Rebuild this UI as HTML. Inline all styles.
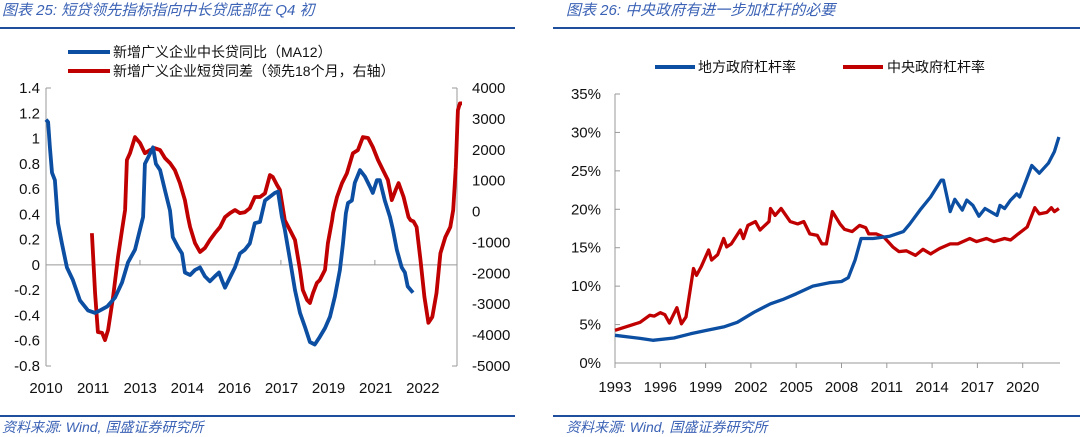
<!DOCTYPE html>
<html><head><meta charset="utf-8">
<style>
html,body{margin:0;padding:0;background:#fff;}
body{width:1080px;height:437px;overflow:hidden;position:relative;font-family:"Liberation Sans","Noto Sans CJK SC",sans-serif;}
svg{position:absolute;left:0;top:0;}
.t{font-family:"Liberation Sans","Noto Sans CJK SC",sans-serif;}
</style></head>
<body>
<svg width="1080" height="437">
<g>
<text x="2" y="15" font-size="15" font-style="italic" fill="#3b62b5" class="t">图表 25:  短贷领先指标指向中长贷底部在 Q4 初</text>
<rect x="0" y="27" width="515" height="2" fill="#1f4e9c"/>
<rect x="0" y="415" width="515" height="2" fill="#1f4e9c"/>
<text x="2" y="432" font-size="14" font-style="italic" fill="#3b62b5" class="t">资料来源:  Wind,  国盛证券研究所</text>
</g>
<g>
<text x="566" y="15" font-size="15" font-style="italic" fill="#3b62b5" class="t">图表 26:  中央政府有进一步加杠杆的必要</text>
<rect x="553" y="27" width="527" height="2" fill="#1f4e9c"/>
<rect x="553" y="415" width="527" height="2" fill="#1f4e9c"/>
<text x="566" y="432" font-size="14" font-style="italic" fill="#3b62b5" class="t">资料来源:  Wind,  国盛证券研究所</text>
</g>
<g id="left"></g>
<g id="right"></g>
</svg>
<script>
// ---------- Left chart data ----------
const leftXLabels = ["2010","2011","2013","2014","2016","2017","2019","2021","2022"];
const leftYTicks = [1.4,1.2,1,0.8,0.6,0.4,0.2,0,-0.2,-0.4,-0.6,-0.8];
const rightYTicks = [4000,3000,2000,1000,0,-1000,-2000,-3000,-4000,-5000];
const blueMonths = [0,0.8,1.5,2.3,3.4,4.6,6.1,8,10.3,13,16.1,18.8,20.7,23.4,26.4,29.1,31.4,34.1,36,37.2,37.9,39.1,41,42.1,43.7,45.6,47.5,48.6,50.6,52.1,53.2,55.2,57.1,59,60.9,62.8,64.7,66.3,67.4,68.6,70.5,72.4,74.3,76.2,78.1,80,82,83.9,85.8,87.7,88.9,90.4,91.5,93.5,95.4,97.3,99.2,101.1,103,104.9,106.9,108.8,110.7,112.6,113.8,114.9,115.7,117.2,118.3,120.3,122.2,124.1,125.2,126.8,127.9,129.8,131.8,132.9,134.4,136.3,137.5,138.6,140.6];
const blueValues = [1.15,1.13,0.93,0.73,0.67,0.33,0.17,-0.02,-0.12,-0.28,-0.36,-0.38,-0.36,-0.33,-0.26,-0.14,0.02,0.12,0.28,0.38,0.8,0.85,0.93,0.8,0.75,0.59,0.43,0.22,0.14,0.09,-0.06,-0.08,-0.04,-0.02,-0.09,-0.13,-0.09,-0.06,-0.12,-0.18,-0.1,-0.02,0.09,0.12,0.17,0.33,0.34,0.51,0.54,0.57,0.58,0.38,0.28,0.04,-0.2,-0.38,-0.49,-0.61,-0.63,-0.57,-0.5,-0.41,-0.25,-0.04,0.17,0.41,0.49,0.51,0.65,0.75,0.7,0.62,0.57,0.67,0.67,0.51,0.38,0.28,0.12,-0.02,-0.06,-0.17,-0.22];
const redMonths = [17.6,18.8,19.9,21.5,22.6,23.8,25.7,27.6,29.1,30.3,31.0,32.2,34.1,36,37.9,39.8,41.7,43.7,45.6,47.5,49.4,51.3,53.2,54.4,55.2,57.1,59,60.9,62.8,64.7,66.7,68.6,70.5,72.4,74.3,76.2,78.1,80,82,83.9,85.8,86.9,88.5,89.6,91.5,93.5,95.4,97.3,98.4,100,101.1,102.3,103.8,104.9,106.9,108,109.6,110,111.5,113.4,115.3,117.6,119.5,121.4,123.4,125.2,127.2,129.1,131,132.5,134,135.1,137,138.9,139.7,140.8,142,143.5,145,146.5,148,149.6,151.1,153,154.9,156,157,157.8,158.6,159.4];
const redValues = [-700,-2650,-3900,-3930,-4160,-3830,-2760,-1470,-600,50,1670,1890,2410,2220,1890,1990,2050,1990,1730,1570,1340,920,370,-180,-500,-1020,-1310,-1180,-920,-700,-500,-180,-50,50,-50,-20,110,470,470,590,1180,1120,860,700,-280,-600,-920,-1890,-2540,-2860,-2960,-2640,-2310,-2220,-1890,-1020,-280,-50,470,920,1240,1890,1990,2410,2380,2090,1670,1340,1020,370,700,920,470,-180,-280,-320,-500,-1570,-2760,-3600,-3410,-2640,-1350,-830,-500,50,1440,3280,3500,3500];

// ---------- Right chart data ----------
const rXLabels = [1993,1996,1999,2002,2005,2008,2011,2014,2017,2020];
const rYTicks = [0,5,10,15,20,25,30,35];
const localYears = [1993,1994.66,1995.5,1996.9,1998,1999.1,2000.2,2001.1,2002.2,2003.3,2004.1,2005,2006.1,2007.2,2008,2008.45,2008.9,2009.3,2010.1,2011.2,2012.1,2012.5,2013.2,2013.9,2014.6,2014.75,2015.2,2015.5,2016,2016.3,2016.7,2017.1,2017.5,2018.3,2018.5,2018.8,2019.2,2019.6,2019.8,2020.2,2020.6,2021.1,2021.7,2022.1,2022.4];
const localValues = [3.6,3.2,2.95,3.25,3.8,4.25,4.7,5.3,6.6,7.7,8.25,9.0,10.0,10.45,10.6,11.1,13.4,16.2,16.2,16.5,17.1,18.05,19.9,21.6,23.8,23.8,19.7,21.3,19.9,21.2,20.5,19.1,20.1,19.2,20.5,20.1,21.2,22.0,21.6,23.6,25.7,24.7,26.0,27.5,29.4];
const centralYears = [1993,1994.66,1995.3,1995.6,1996,1996.3,1996.6,1997.1,1997.4,1997.7,1998.2,1998.4,1998.7,1999.2,1999.4,1999.8,2000.2,2000.4,2000.7,2001.3,2001.5,2001.8,2002.3,2002.6,2003.2,2003.3,2003.6,2004,2004.6,2005.1,2005.5,2005.9,2006.4,2006.7,2007,2007.4,2007.9,2008.2,2008.7,2009.2,2009.6,2009.8,2010.3,2010.8,2011.4,2011.8,2012.3,2012.9,2013.4,2013.9,2014.5,2015.2,2015.7,2016.5,2016.95,2017.6,2018.1,2018.8,2019.2,2019.7,2020.3,2020.8,2021.1,2021.6,2021.9,2022.1,2022.4];
const centralValues = [4.25,5.3,6.2,6.1,6.55,6.3,5.2,7.2,5.1,6.0,12.3,11.4,12.5,14.7,13.4,14.1,16.2,15.1,15.5,17.3,16.2,17.9,18.4,17.3,18.4,20.1,19.2,20.1,18.4,18.1,18.4,16.8,16.6,15.5,15.5,19.7,18.1,17.4,17.1,17.9,17.6,16.8,16.8,16.4,15.1,14.5,14.6,14.0,14.8,14.2,14.9,15.5,15.5,16.2,15.8,16.2,15.8,16.2,16.0,16.8,17.7,20.2,19.4,19.6,20.2,19.7,20.1];

const NS="http://www.w3.org/2000/svg";
function mk(parent,tag,attrs,text){const e=document.createElementNS(NS,tag);for(const k in attrs)e.setAttribute(k,attrs[k]);if(text!==undefined)e.textContent=text;parent.appendChild(e);return e;}

// ---------- Left chart ----------
(function(){
const g=document.getElementById('left');
const x0=46,x1=457,yTop=88,yBot=366;
const xm=t=>x0+t*2.61;
const yl=v=>yTop+(1.4-v)/2.2*(yBot-yTop);
const yr=v=>yTop+(4000-v)/9000*(yBot-yTop);
let e;
e=mk(g,'line',{x1:x0,y1:yTop,x2:x0,y2:yBot,stroke:'#999','stroke-width':1});


e=mk(g,'line',{x1:x1,y1:yTop,x2:x1,y2:yBot,stroke:'#999','stroke-width':1});


e=mk(g,'line',{x1:x0,y1:yl(0),x2:x1,y2:yl(0),stroke:'#999','stroke-width':1});


[1.4,-0.8].forEach(v=>{mk(g,'line',{x1:x0,y1:yl(v),x2:x0+5,y2:yl(v),stroke:'#999'});mk(g,'line',{x1:x1-5,y1:yl(v),x2:x1,y2:yl(v),stroke:'#999'});});
[36,90,126].forEach(t=>mk(g,'line',{x1:xm(t),y1:yl(0)-5,x2:xm(t),y2:yl(0),stroke:'#999'}));
leftYTicks.forEach(v=>{e=mk(g,'text',{x:40,y:yl(v)+5,'font-size':15,'text-anchor':'end',fill:'#111',class:'t'},String(v));

});
rightYTicks.forEach(v=>{e=mk(g,'text',{x:472,y:yr(v)+5,'font-size':15,'text-anchor':'start',fill:'#111',class:'t'},String(v));

});
leftXLabels.forEach((s,i)=>{e=mk(g,'text',{x:x0+i*47.1,y:393,'font-size':15,'text-anchor':'middle',fill:'#111',class:'t'},s);

});
e=mk(g,'polyline',{points:redMonths.map((t,i)=>xm(t).toFixed(1)+','+yr(redValues[i]).toFixed(1)).join(' '),fill:'none',stroke:'#c00000','stroke-width':3.8,'stroke-linejoin':'round'});


e=mk(g,'polyline',{points:blueMonths.map((t,i)=>xm(t).toFixed(1)+','+yl(blueValues[i]).toFixed(1)).join(' '),fill:'none',stroke:'#0b4ea2','stroke-width':3.8,'stroke-linejoin':'round'});


e=mk(g,'line',{x1:68,y1:52,x2:110,y2:52,stroke:'#0b4ea2','stroke-width':4});


e=mk(g,'text',{x:113,y:57,'font-size':14,fill:'#111',class:'t'},'新增广义企业中长贷同比（MA12）');


e=mk(g,'line',{x1:68,y1:71,x2:110,y2:71,stroke:'#c00000','stroke-width':4});


e=mk(g,'text',{x:113,y:76,'font-size':14,fill:'#111',class:'t'},'新增广义企业短贷同差（领先18个月，右轴）');


})();

// ---------- Right chart ----------
(function(){
const g=document.getElementById('right');
const x0=615,yTop=94,yBot=363;
const xy=y=>x0+(y-1993)*15.1;
const yv=v=>yBot-v/35*(yBot-yTop);
let e;
e=mk(g,'line',{x1:x0,y1:yTop,x2:x0,y2:yBot,stroke:'#999'});


e=mk(g,'line',{x1:x0,y1:yBot,x2:1060,y2:yBot,stroke:'#999'});


rYTicks.forEach(v=>{mk(g,'line',{x1:x0,y1:yv(v),x2:x0+5,y2:yv(v),stroke:'#999'});
e=mk(g,'text',{x:601,y:yv(v)+5,'font-size':15,'text-anchor':'end',fill:'#111',class:'t'},v+'%');

});
rXLabels.forEach(y=>{mk(g,'line',{x1:xy(y),y1:yBot,x2:xy(y),y2:yBot+5,stroke:'#999'});
e=mk(g,'text',{x:xy(y),y:392,'font-size':15,'text-anchor':'middle',fill:'#111',class:'t'},String(y));

});
e=mk(g,'polyline',{points:centralYears.map((y,i)=>xy(y).toFixed(1)+','+yv(centralValues[i]).toFixed(1)).join(' '),fill:'none',stroke:'#c00000','stroke-width':3.3,'stroke-linejoin':'round'});


e=mk(g,'polyline',{points:localYears.map((y,i)=>xy(y).toFixed(1)+','+yv(localValues[i]).toFixed(1)).join(' '),fill:'none',stroke:'#0b4ea2','stroke-width':3.3,'stroke-linejoin':'round'});


e=mk(g,'line',{x1:655,y1:67,x2:695,y2:67,stroke:'#0b4ea2','stroke-width':4});


e=mk(g,'text',{x:698,y:72,'font-size':14,fill:'#111',class:'t'},'地方政府杠杆率');


e=mk(g,'line',{x1:843,y1:67,x2:883,y2:67,stroke:'#c00000','stroke-width':4});


e=mk(g,'text',{x:887,y:72,'font-size':14,fill:'#111',class:'t'},'中央政府杠杆率');


})();
</script>
</body></html>
